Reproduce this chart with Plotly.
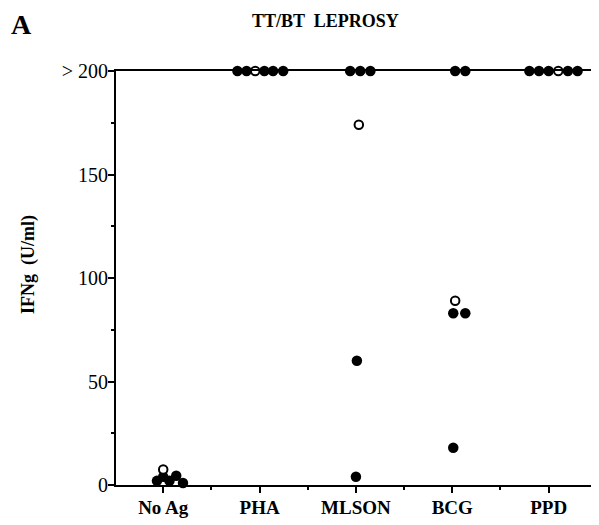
import plotly.graph_objects as go

# ---- data (values in U/ml; 200 marks the "> 200" level) ----
categories = ["No Ag", "PHA", "MLSON", "BCG", "PPD"]

noag_values = [2, 4, 7.5, 2, 4.5, 1]
noag_open = [False, False, True, False, False, False]

pha_values = [200, 200, 200, 200, 200, 200]
pha_open = [False, False, True, False, False, False]

mlson_values = [200, 200, 200, 174, 60, 4]
mlson_open = [False, False, False, True, False, False]

bcg_values = [200, 200, 89, 83, 83, 18]
bcg_open = [False, False, True, False, False, False]

ppd_values = [200, 200, 200, 200, 200, 200]
ppd_open = [False, False, False, True, False, False]

y_tick_values = [0, 50, 100, 150, 200]
y_tick_labels = ["0", "50", "100", "150", "> 200"]

# ---- horizontal dodge of overlapping dots (layout only, category units) ----
dodge = {
    "No Ag": [-0.065, 0.0, 0.0, 0.065, 0.135, 0.205],
    "PHA": [-0.23, -0.135, -0.045, 0.05, 0.14, 0.245],
    "MLSON": [-0.06, 0.045, 0.15, 0.03, 0.01, 0.0],
    "BCG": [0.03, 0.135, 0.03, 0.01, 0.135, 0.01],
    "PPD": [-0.2, -0.1, 0.0, 0.1, 0.2, 0.3],
}

groups = [
    ("No Ag", noag_values, noag_open),
    ("PHA", pha_values, pha_open),
    ("MLSON", mlson_values, mlson_open),
    ("BCG", bcg_values, bcg_open),
    ("PPD", ppd_values, ppd_open),
]

fx, fy, ox, oy = [], [], [], []
for ci, (name, vals, opens) in enumerate(groups):
    for v, o, d in zip(vals, opens, dodge[name]):
        if o:
            ox.append(ci + d)
            oy.append(v)
        else:
            fx.append(ci + d)
            fy.append(v)

fig = go.Figure()
fig.add_trace(go.Scatter(
    x=fx, y=fy, mode="markers", cliponaxis=False, showlegend=False,
    marker=dict(size=10.5, color="black", line=dict(width=0)),
))
fig.add_trace(go.Scatter(
    x=ox, y=oy, mode="markers", cliponaxis=False, showlegend=False,
    marker=dict(size=8.5, color="white", line=dict(width=2, color="black")),
))

serif = "Liberation Serif, Times New Roman, serif"

# page offset of the figure inside the browser window
OFF = 8
W, H = 599, 525
pl, pr, pt, pb = 116 - OFF, 15, 71 - OFF, 48
pw, ph = W - pl - pr, H - pt - pb

fig.update_layout(
    width=W, height=H,
    margin=dict(l=pl, r=pr, t=pt, b=pb),
    paper_bgcolor="white", plot_bgcolor="white",
    font=dict(family=serif, color="black"),
    xaxis=dict(
        range=[-0.49, 4.45],
        tickmode="array", tickvals=list(range(len(categories))), ticktext=categories,
        showline=True, linecolor="black", linewidth=2, mirror=True,
        ticks="outside", ticklen=6, tickwidth=1.5, tickcolor="black",
        minor=dict(tick0=0.5, dtick=1, ticks="outside", ticklen=3, tickwidth=1.5, tickcolor="black"),
        showgrid=False, zeroline=False,
        ticklabelstandoff=-2,
        tickfont=dict(family=serif, size=19, color="black", weight="bold"),
    ),
    yaxis=dict(
        range=[0, 200],
        tickmode="array", tickvals=y_tick_values, ticktext=y_tick_labels,
        showline=True, linecolor="black", linewidth=2, mirror=True,
        ticks="outside", ticklen=6, tickwidth=1.5, tickcolor="black",
        minor=dict(tick0=25, dtick=50, ticks="outside", ticklen=3, tickwidth=1.5, tickcolor="black"),
        showgrid=False, zeroline=False,
        ticklabelstandoff=-4,
        tickfont=dict(family=serif, size=20, color="black"),
    ),
)


def ann(text, wx, wy, size, angle=0):
    # wx, wy are window pixel positions; convert to paper coords
    fx_ = (wx - OFF - pl) / pw
    fy_ = 1 - (wy - OFF - pt) / ph
    return dict(text=text, x=fx_, y=fy_, xref="paper", yref="paper",
                xanchor="center", yanchor="middle", textangle=angle,
                showarrow=False, font=dict(family=serif, size=size, color="black"))


fig.update_layout(annotations=[
    ann("<b>TT/BT  LEPROSY</b>", 325, 21, 18),
    ann("<b>A</b>", 21, 25, 28),
    ann("<b>IFNg  (U/ml)</b>", 28, 265, 18, -90),
])

fig.write_html("out.html")
